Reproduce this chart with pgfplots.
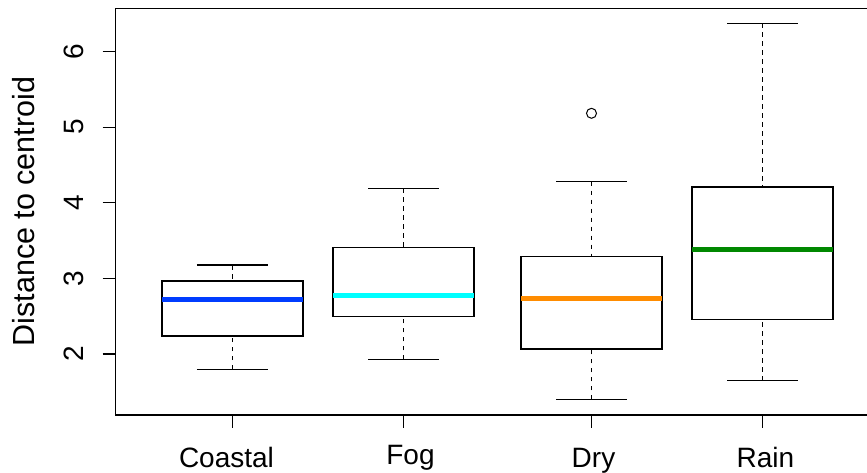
\documentclass[border=0pt]{standalone}
\usepackage{pgfplots}
\pgfplotsset{compat=1.18}
\usepgfplotslibrary{statistics}
\usepackage{fontspec}
\setmainfont{Liberation Sans}
\definecolor{rblue}{RGB}{0,60,255}
\definecolor{rcyan}{RGB}{0,255,255}
\definecolor{rorange}{RGB}{255,140,0}
\definecolor{rgreen}{RGB}{0,136,0}
\begin{document}
\begin{tikzpicture}
\begin{axis}[
  scale only axis, width=754.3pt, height=406.7pt,
  xmin=115.7, xmax=870, ymin=1.193, ymax=6.573,
  xtick={232.5,403.5,591.5,762.5},
  xticklabels={\hspace*{-12pt}Coastal,\hspace*{14pt}\raisebox{3pt}{Fog},\hspace*{4pt}Dry,\hspace*{6pt}Rain},
  ytick={2,3,4,5,6},
  minor tick num=0,
  tick align=outside, xtick pos=bottom, ytick pos=left,
  major tick length=13pt,
  tick style={black, line width=1.2pt},
  axis line style={black, line width=1.2pt},
  /pgf/number format/assume math mode=true,
  tick label style={font=\fontsize{28}{30}\selectfont},
  yticklabel style={xshift=-19pt, rotate=90, anchor=south, inner sep=0pt},
  xticklabel style={anchor=base, yshift=-40pt, inner sep=0pt},
  ylabel={Distance to centroid},
  every axis y label/.style={at={(axis description cs:-0.122,0.5)}, rotate=90, anchor=center, font=\fontsize{30.5}{33}\selectfont},
  boxplot/draw direction=y,
  boxplot/box extend=141,
  boxplot/whisker extend=71,
  boxplot/every box/.style={draw=black, line width=1.1pt, fill=white},
  boxplot/draw/lower whisker/.code={%
    \draw[dash pattern=on 4.5pt off 4.5pt, line width=1pt] (boxplot box cs:\pgfplotsboxplotvalue{lower whisker},0.5) -- (boxplot box cs:\pgfplotsboxplotvalue{lower quartile},0.5);
    \draw[solid, line width=1.2pt] (boxplot whisker cs:\pgfplotsboxplotvalue{lower whisker},0) -- (boxplot whisker cs:\pgfplotsboxplotvalue{lower whisker},1);
  },
  boxplot/draw/upper whisker/.code={%
    \draw[dash pattern=on 4.5pt off 4.5pt, line width=1pt] (boxplot box cs:\pgfplotsboxplotvalue{upper whisker},0.5) -- (boxplot box cs:\pgfplotsboxplotvalue{upper quartile},0.5);
    \draw[solid, line width=1.2pt] (boxplot whisker cs:\pgfplotsboxplotvalue{upper whisker},0) -- (boxplot whisker cs:\pgfplotsboxplotvalue{upper whisker},1);
  },
]
\addplot[black, boxplot prepared={median=2.724, upper quartile=2.966, lower quartile=2.238, upper whisker=3.177, lower whisker=1.80, draw position=232.5, every median/.style={draw=rblue, line width=5pt}}] coordinates {};
\addplot[black, boxplot prepared={median=2.776, upper quartile=3.411, lower quartile=2.499, upper whisker=4.19, lower whisker=1.93, draw position=403.5, every median/.style={draw=rcyan, line width=5pt}}] coordinates {};
\addplot[black, mark=o, mark size=5pt, mark options={line width=1pt}, boxplot prepared={median=2.737, upper quartile=3.287, lower quartile=2.066, upper whisker=4.28, lower whisker=1.40, draw position=591.5, every median/.style={draw=rorange, line width=5pt}}] coordinates {(0,5.184)};
\addplot[black, boxplot prepared={median=3.38, upper quartile=4.209, lower quartile=2.459, upper whisker=6.374, lower whisker=1.647, draw position=762.5, every median/.style={draw=rgreen, line width=5pt}}] coordinates {};
\end{axis}
\pgfresetboundingbox
\path ([shift={(-115.7pt,-58pt)}]current axis.south west) rectangle ([shift={(-3pt,8.3pt)}]current axis.north east);
\end{tikzpicture}
\end{document}
